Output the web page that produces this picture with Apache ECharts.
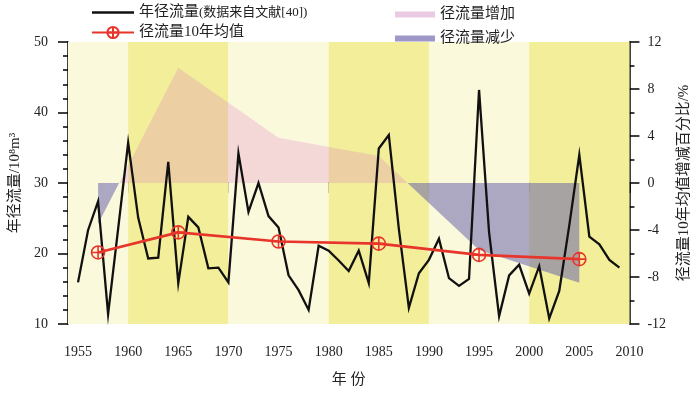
<!DOCTYPE html>
<html><head><meta charset="utf-8">
<script src="https://cdn.jsdelivr.net/npm/echarts@6/dist/echarts.min.js"></script>
<style>html,body{margin:0;padding:0;background:#fff}#c{width:700px;height:393px}</style>
</head><body><div id="c"></div>
<script>
// ---- data ----
const years = [1955,1956,1957,1958,1959,1960,1961,1962,1963,1964,
               1965,1966,1967,1968,1969,1970,1971,1972,1973,1974,
               1975,1976,1977,1978,1979,1980,1981,1982,1983,1984,
               1985,1986,1987,1988,1989,1990,1991,1992,1993,1994,
               1995,1996,1997,1998,1999,2000,2001,2002,2003,2004,
               2005,2006,2007,2008,2009];
const runoff = [15.9,23.3,27.4,11.4,23.5,35.7,25.1,19.3,19.4,33.0,
                15.8,25.2,23.7,17.9,18.0,15.9,34.2,25.9,30.0,25.3,
                23.7,16.9,14.8,12.0,21.1,20.4,19.0,17.5,20.4,15.8,
                34.9,36.8,23.5,12.3,17.2,19.1,22.1,16.5,15.4,16.4,
                43.2,23.0,11.1,16.9,18.4,14.3,18.2,10.8,14.7,24.0,
                34.0,22.4,21.3,19.1,18.0];
const meanYears = [1957,1965,1975,1985,1995,2005];
const meanRunoff = [20.15,23.0,21.7,21.4,19.8,19.2];
const meanChangePct = [-3.5,9.8,3.85,2.3,-5.7,-8.5];
const decadeEdges = [1954,1960,1970,1980,1990,2000,2010];

const NAME_ANNUAL = '年径流量(数据来自文献[40])';
const NAME_MEAN = '径流量10年均值';
const NAME_UP = '径流量增加';
const NAME_DOWN = '径流量减少';

// ---- styles ----
const FONT = '"Liberation Serif","Noto Sans CJK SC",serif';
const BAND_COLORS = ['#FBF9DB', '#F2EE99'];
const PINK = 'rgba(215,100,200,0.22)';
const BLUE = 'rgba(100,94,172,0.52)';
const RED = '#E8352B';
const TXT = '#222';
const CIRCLE_PLUS = 'path://M2,12A10,10,0,1,1,22,12A10,10,0,1,1,2,12Z M2,12L22,12 M12,2L12,22';
const LINE_ICON = 'path://M0,0L40,0L40,2.3L0,2.3Z';

const pairs = (xs, ys) => xs.map((x, i) => [x, ys[i]]);
const bands = [];
for (let i = 0; i < decadeEdges.length - 1; i++) {
  bands.push([{xAxis: decadeEdges[i], itemStyle: {color: BAND_COLORS[i % 2], borderWidth: 0}}, {xAxis: decadeEdges[i + 1]}]);
}

const axisCommon = {
  axisLine: {show: true, lineStyle: {color: '#000', width: 1.5}},
  axisTick: {show: true, inside: false, length: 10, lineStyle: {color: '#000', width: 1.5}},
  splitLine: {show: false},
  nameTextStyle: {fontFamily: FONT, fontSize: 15, color: TXT},
};

const chart = echarts.init(document.getElementById('c'), null, {renderer: 'canvas'});
chart.setOption({
  animation: false,
  grid: {left: 68, right: 65, top: 42, bottom: 68},
  legend: [
    {
      left: 86, top: 0, orient: 'vertical', itemWidth: 42, itemHeight: 14, itemGap: 5,
      data: [{name: NAME_ANNUAL, icon: LINE_ICON, itemStyle: {color: '#111'}}, NAME_MEAN],
      formatter: n => n === NAME_ANNUAL ? '{a|年径流量}{b|(数据来自文献[40])}' : '{a|' + n + '}',
      textStyle: {fontFamily: FONT, color: TXT,
        rich: {a: {fontFamily: FONT, fontSize: 15, color: TXT}, b: {fontFamily: FONT, fontSize: 13, color: TXT}}}
    },
    {
      left: 390, top: 0, orient: 'vertical', itemWidth: 40, itemHeight: 6, itemGap: 5,
      data: [
        {name: NAME_UP, icon: 'rect', itemStyle: {color: '#EBCBE3'}},
        {name: NAME_DOWN, icon: 'rect', itemStyle: {color: '#9E98C8'}}
      ],
      textStyle: {fontFamily: FONT, fontSize: 15, color: TXT, lineHeight: 19}
    }
  ],
  xAxis: Object.assign({}, axisCommon, {
    type: 'value', min: 1954, max: 2010, splitNumber: 11,
    name: '年 份', nameLocation: 'middle', nameGap: 49,
    minorTick: {show: true, splitNumber: 5, length: 5, lineStyle: {color: '#000', width: 1.5}},
    axisLabel: {margin: 21, fontFamily: FONT, fontSize: 14, color: TXT, showMinLabel: false,
      formatter: v => (v % 5 === 0 ? String(v) : '')}
  }),
  yAxis: [
    Object.assign({}, axisCommon, {
      type: 'value', min: 10, max: 50, interval: 10, position: 'left',
      name: '年径流量/10⁸m³', nameLocation: 'middle', nameGap: 45, nameRotate: 90,
      minorTick: {show: true, splitNumber: 5, length: 5, lineStyle: {color: '#000', width: 1.5}},
      axisLabel: {margin: 20, fontFamily: FONT, fontSize: 14, color: TXT}
    }),
    Object.assign({}, axisCommon, {
      type: 'value', min: -12, max: 12, interval: 4, position: 'right',
      name: '径流量10年均值增减百分比/%', nameLocation: 'middle', nameGap: 47, nameRotate: 90,
      minorTick: {show: true, splitNumber: 2, length: 5, lineStyle: {color: '#000', width: 1.5}},
      axisLabel: {margin: 18, fontFamily: FONT, fontSize: 14, color: TXT}
    })
  ],
  visualMap: {
    type: 'piecewise', show: false, seriesIndex: 1, dimension: 1,
    pieces: [{min: 0, max: 12, color: PINK}, {min: -12, max: 0, color: BLUE}]
  },
  series: [
    {
      name: 'bg', type: 'line', z: 0, silent: true, symbol: 'none',
      data: pairs(years, runoff), lineStyle: {opacity: 0},
      markArea: {silent: true, label: {show: false}, data: bands}
    },
    {
      name: NAME_UP, type: 'line', yAxisIndex: 1, z: 1, silent: true,
      symbol: 'none', data: pairs(meanYears, meanChangePct),
      lineStyle: {width: 0, opacity: 0},
      areaStyle: {opacity: 1, origin: 0}
    },
    {
      name: NAME_ANNUAL, type: 'line', z: 3, symbol: 'none',
      data: pairs(years, runoff), color: '#111',
      lineStyle: {color: '#111', width: 2.3, join: 'miter'}
    },
    {
      name: NAME_MEAN, type: 'line', z: 4, data: pairs(meanYears, meanRunoff),
      color: RED, symbol: CIRCLE_PLUS, symbolSize: 13,
      lineStyle: {color: RED, width: 2.7},
      itemStyle: {color: 'rgba(255,255,255,0)', borderColor: RED, borderWidth: 1.6}
    },
    {
      name: NAME_DOWN, type: 'line', yAxisIndex: 1, data: [], color: '#9E98C8'
    }
  ]
});
</script>
</body></html>
